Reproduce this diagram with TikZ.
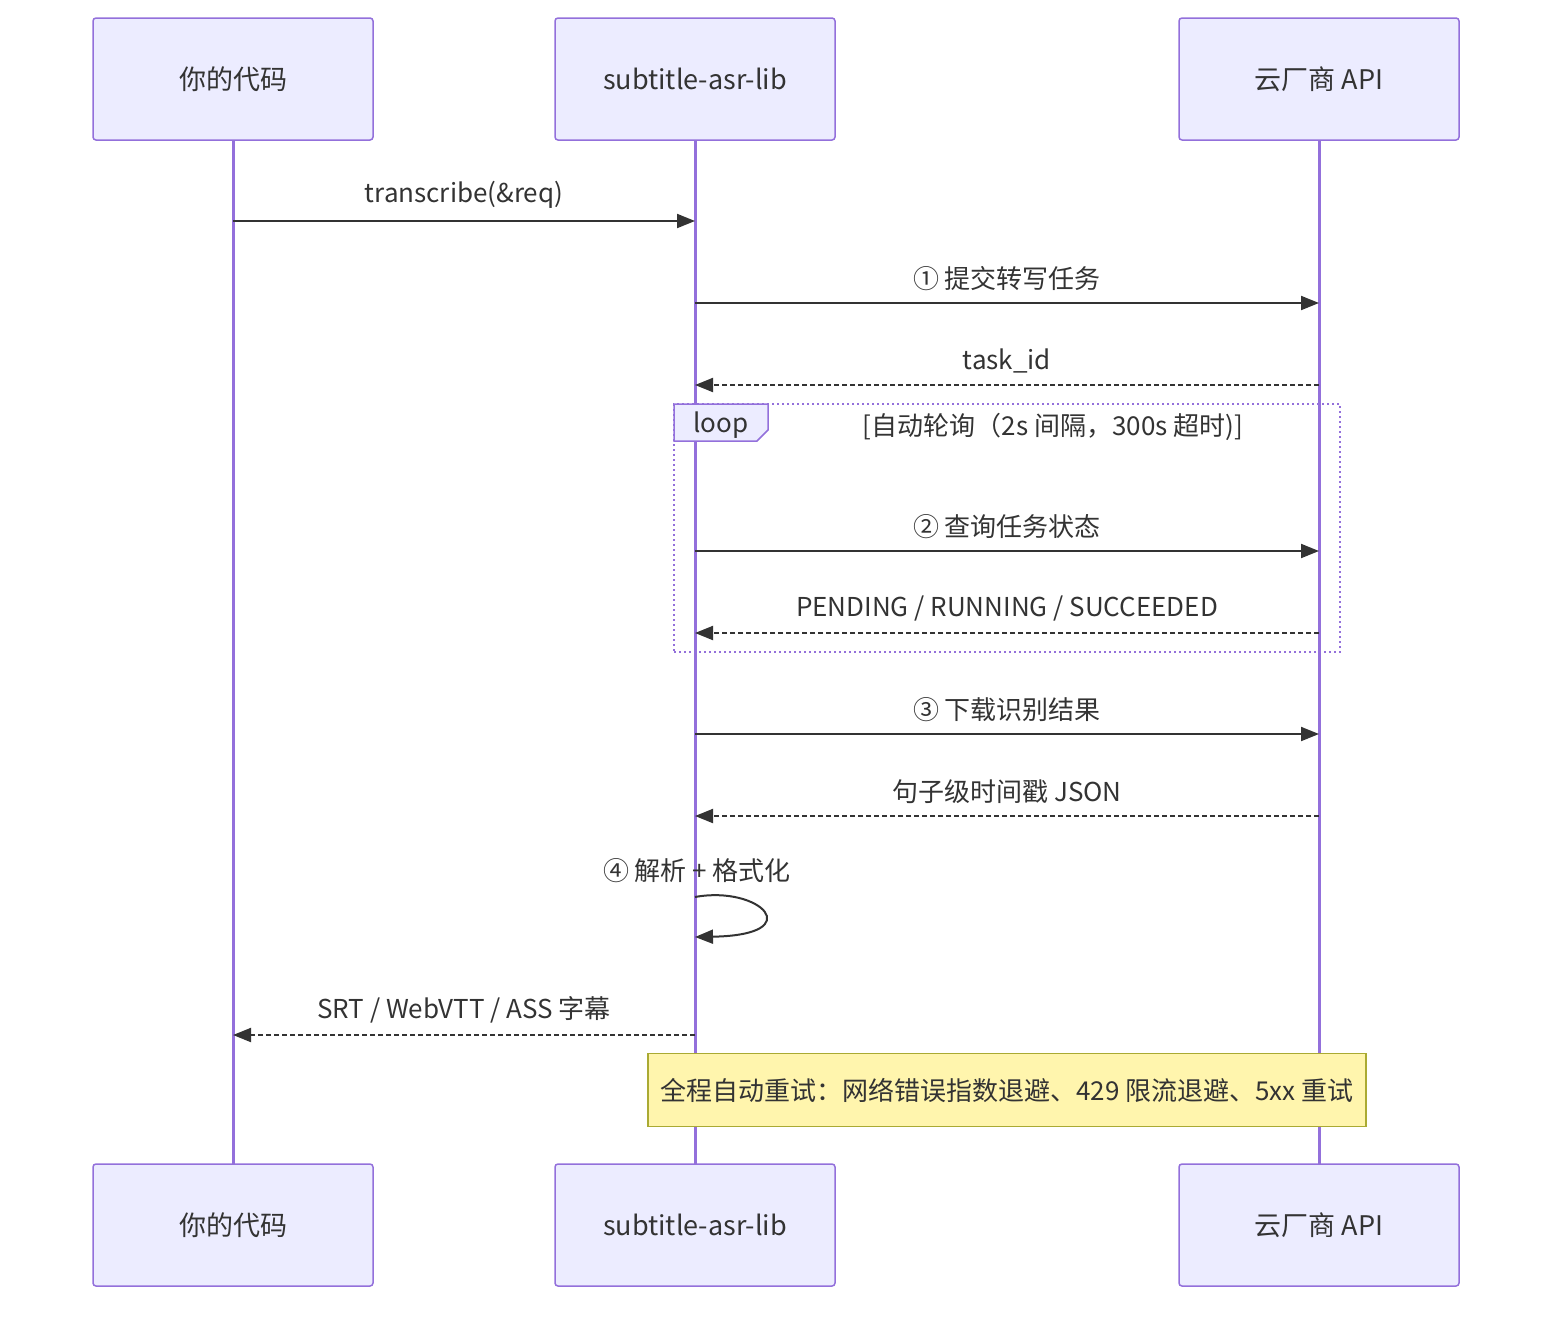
\documentclass[tikz,border=0pt]{standalone}
\usepackage{fontspec}
\setmainfont{Noto Sans CJK SC}
\usetikzlibrary{arrows.meta}
\definecolor{actfill}{HTML}{ECECFF}
\definecolor{actline}{HTML}{9370DB}
\definecolor{txt}{HTML}{333333}
\definecolor{notefill}{HTML}{FFF5AD}
\definecolor{noteline}{HTML}{AAAA33}
\begin{document}
\begin{tikzpicture}[x=1pt,y=-1pt,
  actor/.style={draw=actline,fill=actfill,line width=1.5pt,rounded corners=3pt,minimum width=280pt,minimum height=122pt,font=\fontsize{27}{30}\selectfont,text=txt},
  lbl/.style={font=\fontsize{26}{30}\selectfont,text=txt},
  msg/.style={draw=txt,line width=2pt,-{Triangle[length=18pt,width=14pt]}},
  ret/.style={msg,dash pattern=on 5pt off 3pt}]
\useasboundingbox (0,0) rectangle (1568,1320);
\foreach \n/\x/\t in {a/233/你的代码,b/695/subtitle-asr-lib,c/1319/云厂商 API}{
  \draw[actline,line width=3pt] (\x,140) -- (\x,1164);
  \node[actor] (\n1) at (\x,79) {\t};
  \node[actor] (\n2) at (\x,1225) {\t};
}
% loop box
\node[draw=actline,line width=2pt,dash pattern=on 2pt off 3pt,minimum width=666pt,minimum height=248pt] (loop) at (1007,528) {};
\draw[actline,fill=actfill,line width=1.5pt] (674,404) -- (768,404) -- (768,430) -- (757,441) -- (674,441) -- cycle;
\node[lbl] (looplbl) at (721,425) {loop};
\node[lbl] (cond) at (1053,427) {[自动轮询（2s 间隔，300s 超时)]};
% coordinates
\foreach \n/\x/\y in {a1/233/221,b1/695/221,b2/695/303,c2/1319/303,c3/1319/385,b3/695/385,b4/695/551,c4/1319/551,c5/1319/633,b5/695/633,b6/695/734,c6/1319/734,c7/1319/816,b7/695/816,b8/695/1035,a8/233/1035,s1/695/897,s2/695/937}
  \coordinate (\n) at (\x,\y);
\draw[msg] (a1) -- (b1) node[lbl,midway,above=8pt] (m1) {transcribe(\&req)};
\draw[msg] (b2) -- (c2) node[lbl,midway,above=8pt] (m2) {① 提交转写任务};
\draw[ret] (c3) -- (b3) node[lbl,midway,above=8pt] (m3) {task\_id};
\draw[msg] (b4) -- (c4) node[lbl,midway,above=8pt] (m4) {② 查询任务状态};
\draw[ret] (c5) -- (b5) node[lbl,midway,above=8pt] (m5) {PENDING / RUNNING / SUCCEEDED};
\draw[msg] (b6) -- (c6) node[lbl,midway,above=8pt] (m6) {③ 下载识别结果};
\draw[ret] (c7) -- (b7) node[lbl,midway,above=8pt] (m7) {句子级时间戳 JSON};
\node[lbl] (m9) at (697,871) {④ 解析 + 格式化};
\draw[msg] (s1) .. controls (760,885) and (810,935) .. (s2);
\draw[ret] (b8) -- (a8) node[lbl,midway,above=8pt] (m8) {SRT / WebVTT / ASS 字幕};
\node[draw=noteline,fill=notefill,line width=1.5pt,minimum width=718pt,minimum height=73pt] (note) at (1007,1090) {};
\node[lbl] (notet) at (1007,1090) {全程自动重试：网络错误指数退避、429 限流退避、5xx 重试};
\end{tikzpicture}
\end{document}
